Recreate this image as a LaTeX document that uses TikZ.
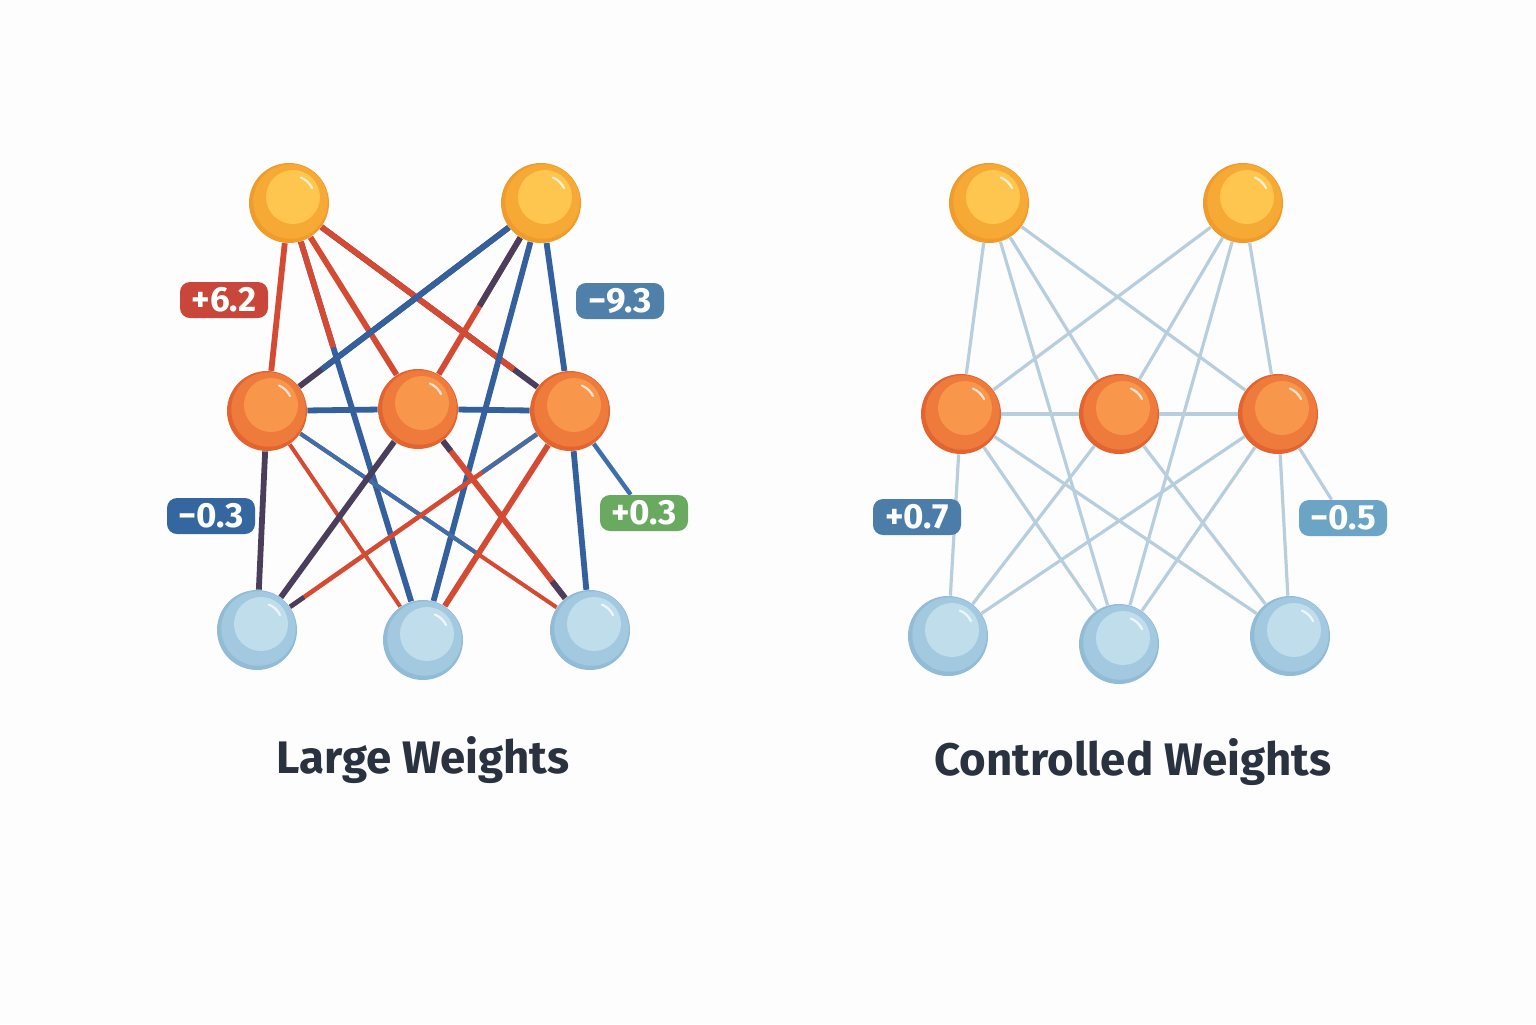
\documentclass[tikz,border=0pt]{standalone}
\usepackage{fontspec}
\setmainfont{Fira Sans}
\usetikzlibrary{calc,backgrounds}
\definecolor{bgc}{HTML}{FDFDFD}
\definecolor{cRed}{HTML}{D44A33}
\definecolor{cBlue}{HTML}{35609E}
\definecolor{cPur}{HTML}{4B3D5C}
\definecolor{cThin}{HTML}{3C70AC}
\definecolor{cLight}{HTML}{B7CEDF}
\definecolor{topRim}{HTML}{F09C2C}
\definecolor{topMid}{HTML}{F6AA35}
\definecolor{topLt}{HTML}{FEC64E}
\definecolor{midRim}{HTML}{E4642F}
\definecolor{midMid}{HTML}{EE7A3C}
\definecolor{midLt}{HTML}{F8964C}
\definecolor{botRim}{HTML}{92BCD6}
\definecolor{botMid}{HTML}{A2C9E0}
\definecolor{botLt}{HTML}{C0DDEC}
\definecolor{titleC}{HTML}{2A3240}
\definecolor{lRed}{HTML}{C9463A}
\definecolor{lSteel}{HTML}{4F80A9}
\definecolor{lDark}{HTML}{3466A0}
\definecolor{lGreen}{HTML}{6AAA60}
\definecolor{lMid}{HTML}{4B7DA8}
\definecolor{lPale}{HTML}{6BA4C4}
\tikzset{
  ball/.style={circle, minimum size=40pt, inner sep=0pt, draw=none},
  ered/.style={draw=cRed, line width=2.9pt},
  eblue/.style={draw=cBlue, line width=2.9pt},
  epur/.style={draw=cPur, line width=2.9pt},
  ethin/.style={line width=2pt},
  eright/.style={draw=cLight, line width=1.6pt},
  wlabel/.style={rounded corners=5pt, minimum width=44pt, minimum height=18pt, inner sep=0pt,
    text=white, font=\fontsize{17.5}{19}\selectfont\bfseries},
  titlelab/.style={text=titleC, font=\fontsize{22.8}{27}\selectfont\bfseries, inner sep=0pt},
}
\newcommand\myball[5]{%
  \node[ball, fill=#3] (#1) at (#2) {};
  \fill[#4] ([shift={(1.5,-1.5)}]#1.center) circle (18.6pt);
  \fill[#5] ([shift={(4,-6)}]#1.center) circle (13.5pt);
  \draw[white, opacity=0.75, line width=1.1pt, line cap=round]
    ([shift={(4,-6)}]#1.center) ++(25:10.5pt) arc (25:68:10.5pt);
}
\newcommand\twoedge[5]{%
  \draw[#5] (#1) -- (#2);
  \draw[#4] (#1) -- ($(#1)!#3!(#2)$);}
\newcommand\threeedge[7]{%
  \draw[#6] (#1) -- (#2);
  \draw[#5] (#1) -- ($(#1)!#3!(#2)$);
  \draw[#7] (#2) -- ($(#2)!#4!(#1)$);}
\begin{document}
\begin{tikzpicture}[x=0.5pt,y=-0.5pt]
\useasboundingbox (0,0) rectangle (1536,1024);
% ---- left network nodes
\myball{T1}{289,203}{topRim}{topMid}{topLt}
\myball{T2}{541,203}{topRim}{topMid}{topLt}
\myball{M1}{267,411}{midRim}{midMid}{midLt}
\myball{M2}{418,409}{midRim}{midMid}{midLt}
\myball{M3}{570,411}{midRim}{midMid}{midLt}
\myball{B1}{257,630}{botRim}{botMid}{botLt}
\myball{B2}{423,640}{botRim}{botMid}{botLt}
\myball{B3}{590,630}{botRim}{botMid}{botLt}
% ---- right network nodes
\myball{RT1}{989,203}{topRim}{topMid}{topLt}
\myball{RT2}{1243,203}{topRim}{topMid}{topLt}
\myball{RM1}{961,414}{midRim}{midMid}{midLt}
\myball{RM2}{1119,414}{midRim}{midMid}{midLt}
\myball{RM3}{1278,414}{midRim}{midMid}{midLt}
\myball{RB1}{948,636}{botRim}{botMid}{botLt}
\myball{RB2}{1119,644}{botRim}{botMid}{botLt}
\myball{RB3}{1290,636}{botRim}{botMid}{botLt}
% ---- labels
\node[wlabel, fill=lRed] (l62) at (224,300) {+6.2};
\node[wlabel, fill=lSteel] (l93) at (620,301) {−9.3};
\node[wlabel, fill=lDark] (l03n) at (211,516) {−0.3};
\node[wlabel, fill=lGreen] (l03p) at (644,513) {+0.3};
\node[wlabel, fill=lMid] (r07) at (917,517) {+0.7};
\node[wlabel, fill=lPale] (r05) at (1343,518) {−0.5};
% ---- titles
\node[titlelab] (tl) at (423,760) {Large Weights};
\node[titlelab] (tr) at (1133,762) {Controlled Weights};
\begin{scope}[on background layer]
\fill[bgc] (0,0) rectangle (1536,1024);
% left edges
\draw[ered] (T1) -- (M1);
\draw[ered] (T1) -- (M2);
\twoedge{T1}{B2}{0.33}{ered}{eblue}
\twoedge{T1}{M3}{0.8}{ered}{epur}
\twoedge{T2}{M1}{0.8}{eblue}{epur}
\twoedge{T2}{M2}{0.5}{epur}{ered}
\draw[eblue] (T2) -- (B2);
\draw[eblue] (T2) -- (M3);
\draw[eblue] (M1) -- (M2);
\draw[eblue] (M2) -- (M3);
\draw[epur] (M1) -- (B1);
\draw[ered, ethin] (M1) -- (B2);
\twoedge{M1}{B3}{0.65}{draw=cThin, ethin}{ered, ethin}
\draw[epur] (M2) -- (B1);
\threeedge{M2}{B3}{0.19}{0.22}{epur}{ered}{epur}
\threeedge{M3}{B1}{0.28}{0.15}{draw=cThin, ethin}{ered, line width=2.3pt}{epur, line width=2.3pt}
\draw[ered] (M3) -- (B2);
\draw[eblue] (M3) -- (B3);
\draw[draw=cThin, line width=2.2pt] (M3) -- (l03p);
% right edges
\draw[eright] (RT1) -- (RM1);
\draw[eright] (RT1) -- (RM2);
\draw[eright] (RT1) -- (RM3);
\draw[eright] (RT1) -- (RB2);
\draw[eright] (RT2) -- (RM1);
\draw[eright] (RT2) -- (RM2);
\draw[eright] (RT2) -- (RM3);
\draw[eright] (RT2) -- (RB2);
\draw[eright] (RM1) -- (RM2);
\draw[eright] (RM2) -- (RM3);
\draw[eright] (RM1) -- (RB1);
\draw[eright] (RM1) -- (RB2);
\draw[eright] (RM1) -- (RB3);
\draw[eright] (RM2) -- (RB1);
\draw[eright] (RM2) -- (RB3);
\draw[eright] (RM3) -- (RB1);
\draw[eright] (RM3) -- (RB2);
\draw[eright] (RM3) -- (RB3);
\draw[eright] (RM3) -- (r05);
\end{scope}
\end{tikzpicture}
\end{document}
